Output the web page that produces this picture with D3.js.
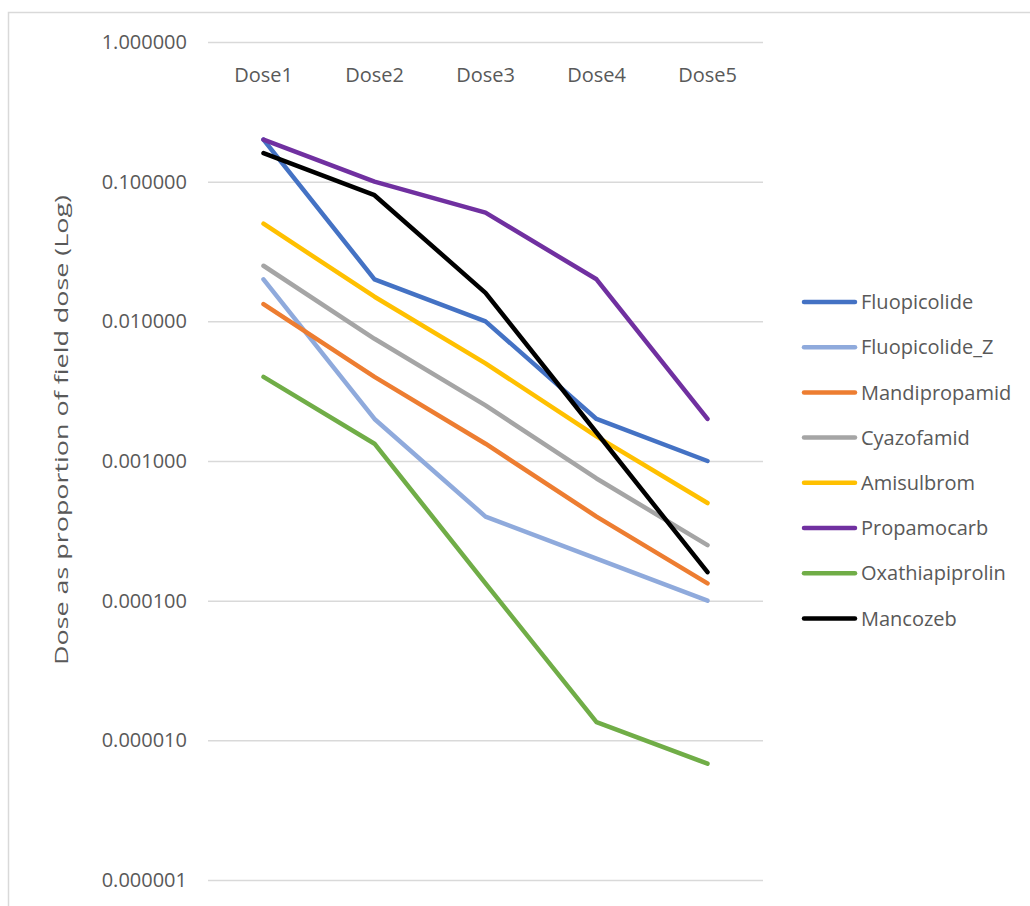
<!DOCTYPE html>
<html>
<head>
<meta charset="utf-8">
<script src="https://cdn.jsdelivr.net/npm/d3@7"></script>
<style>
body { margin: 0; background: #fff; }
svg text { font-family: "Open Sans", Lato, sans-serif; fill: #595959; }
</style>
</head>
<body>
<div id="g"></div>
<script>
// categories on the x axis
const doses = ["Dose1", "Dose2", "Dose3", "Dose4", "Dose5"];
// y ticks (log)
const yTicks = [1, 0.1, 0.01, 0.001, 0.0001, 0.00001, 0.000001];

// series values
const fluopicolide = [0.2, 0.02, 0.01, 0.002, 0.001];
const fluopicolideZ = [0.02, 0.002, 0.0004, 0.0002, 0.0001];
const mandipropamid = [0.0133, 0.004, 0.00133, 0.0004, 0.000133];
const cyazofamid = [0.025, 0.0075, 0.0025, 0.00075, 0.00025];
const amisulbrom = [0.05, 0.015, 0.005, 0.0015, 0.0005];
const propamocarb = [0.2, 0.1, 0.06, 0.02, 0.002];
const oxathiapiprolin = [0.004, 0.00133, 0.000133, 0.0000135, 0.0000068];
const mancozeb = [0.16, 0.08, 0.016, 0.0016, 0.00016];

const seriesNames = ["Fluopicolide", "Fluopicolide_Z", "Mandipropamid", "Cyazofamid",
    "Amisulbrom", "Propamocarb", "Oxathiapiprolin", "Mancozeb"];
const seriesVals = [fluopicolide, fluopicolideZ, mandipropamid, cyazofamid,
    amisulbrom, propamocarb, oxathiapiprolin, mancozeb];
const colors = ["#4472C4", "#8FAADC", "#ED7D31", "#A5A5A5",
    "#FFC000", "#7030A0", "#70AD47", "#000000"];

const W = 1030, H = 906;
const plotL = 208, plotR = 763, plotT = 42, plotB = 880;

const svg = d3.select("#g").append("svg")
    .attr("width", W)
    .attr("height", H);

// chart border (runs off the right and bottom edge)
svg.append("rect")
    .attr("x", 8.5).attr("y", 12.5)
    .attr("width", W + 10).attr("height", H + 10)
    .attr("fill", "none")
    .attr("stroke", "#d9d9d9")
    .attr("stroke-width", 1.5);

const xScale = d3.scaleBand()
    .domain(doses)
    .range([plotL, plotR]);

const yScale = d3.scaleLog()
    .domain([0.000001, 1])
    .range([plotB, plotT]);

// gridlines + y labels
const yAxis = d3.axisLeft(yScale)
    .tickValues(yTicks)
    .tickSize(-(plotR - plotL))
    .tickPadding(21)
    .tickFormat(d => d.toFixed(6));

const gy = svg.append("g")
    .attr("transform", `translate(${plotL},0)`)
    .call(yAxis);
gy.select(".domain").remove();
gy.selectAll(".tick line").attr("stroke", "#d9d9d9").attr("stroke-width", 1.5);
gy.selectAll(".tick text").style("font-size", "20px").attr("fill", "#595959");

// category labels sit at the top
const xAxis = d3.axisTop(xScale).tickSize(0).tickPadding(0);
const gx = svg.append("g")
    .attr("transform", `translate(0,${plotT + 40})`)
    .call(xAxis);
gx.select(".domain").remove();
gx.selectAll(".tick text").style("font-size", "20px").attr("fill", "#595959");

// axis title
svg.append("text")
    .attr("transform", "translate(68,430) rotate(-90)")
    .attr("text-anchor", "middle")
    .attr("textLength", 470)
    .attr("lengthAdjust", "spacingAndGlyphs")
    .style("font-size", "19px")
    .text("Dose as proportion of field dose (Log)");

const line = d3.line()
    .x((d, i) => xScale(doses[i]) + xScale.bandwidth() / 2)
    .y(d => yScale(d));

svg.selectAll(".series").data(seriesVals)
    .enter()
    .append("path")
    .attr("class", "series")
    .attr("d", d => line(d))
    .attr("fill", "none")
    .attr("stroke", (d, i) => colors[i])
    .attr("stroke-width", 4.5)
    .attr("stroke-linecap", "round")
    .attr("stroke-linejoin", "round");

// legend
const lg = svg.append("g").attr("transform", "translate(802,302)");
const items = lg.selectAll(".item").data(seriesNames)
    .enter()
    .append("g")
    .attr("class", "item")
    .attr("transform", (d, i) => `translate(0,${i * 45.2})`);
items.append("line")
    .attr("x1", 2).attr("x2", 53)
    .attr("stroke", (d, i) => colors[i])
    .attr("stroke-width", 4.5)
    .attr("stroke-linecap", "round");
items.append("text")
    .attr("x", 59)
    .attr("dy", "0.36em")
    .style("font-size", "20px")
    .text(d => d);
</script>
</body>
</html>
